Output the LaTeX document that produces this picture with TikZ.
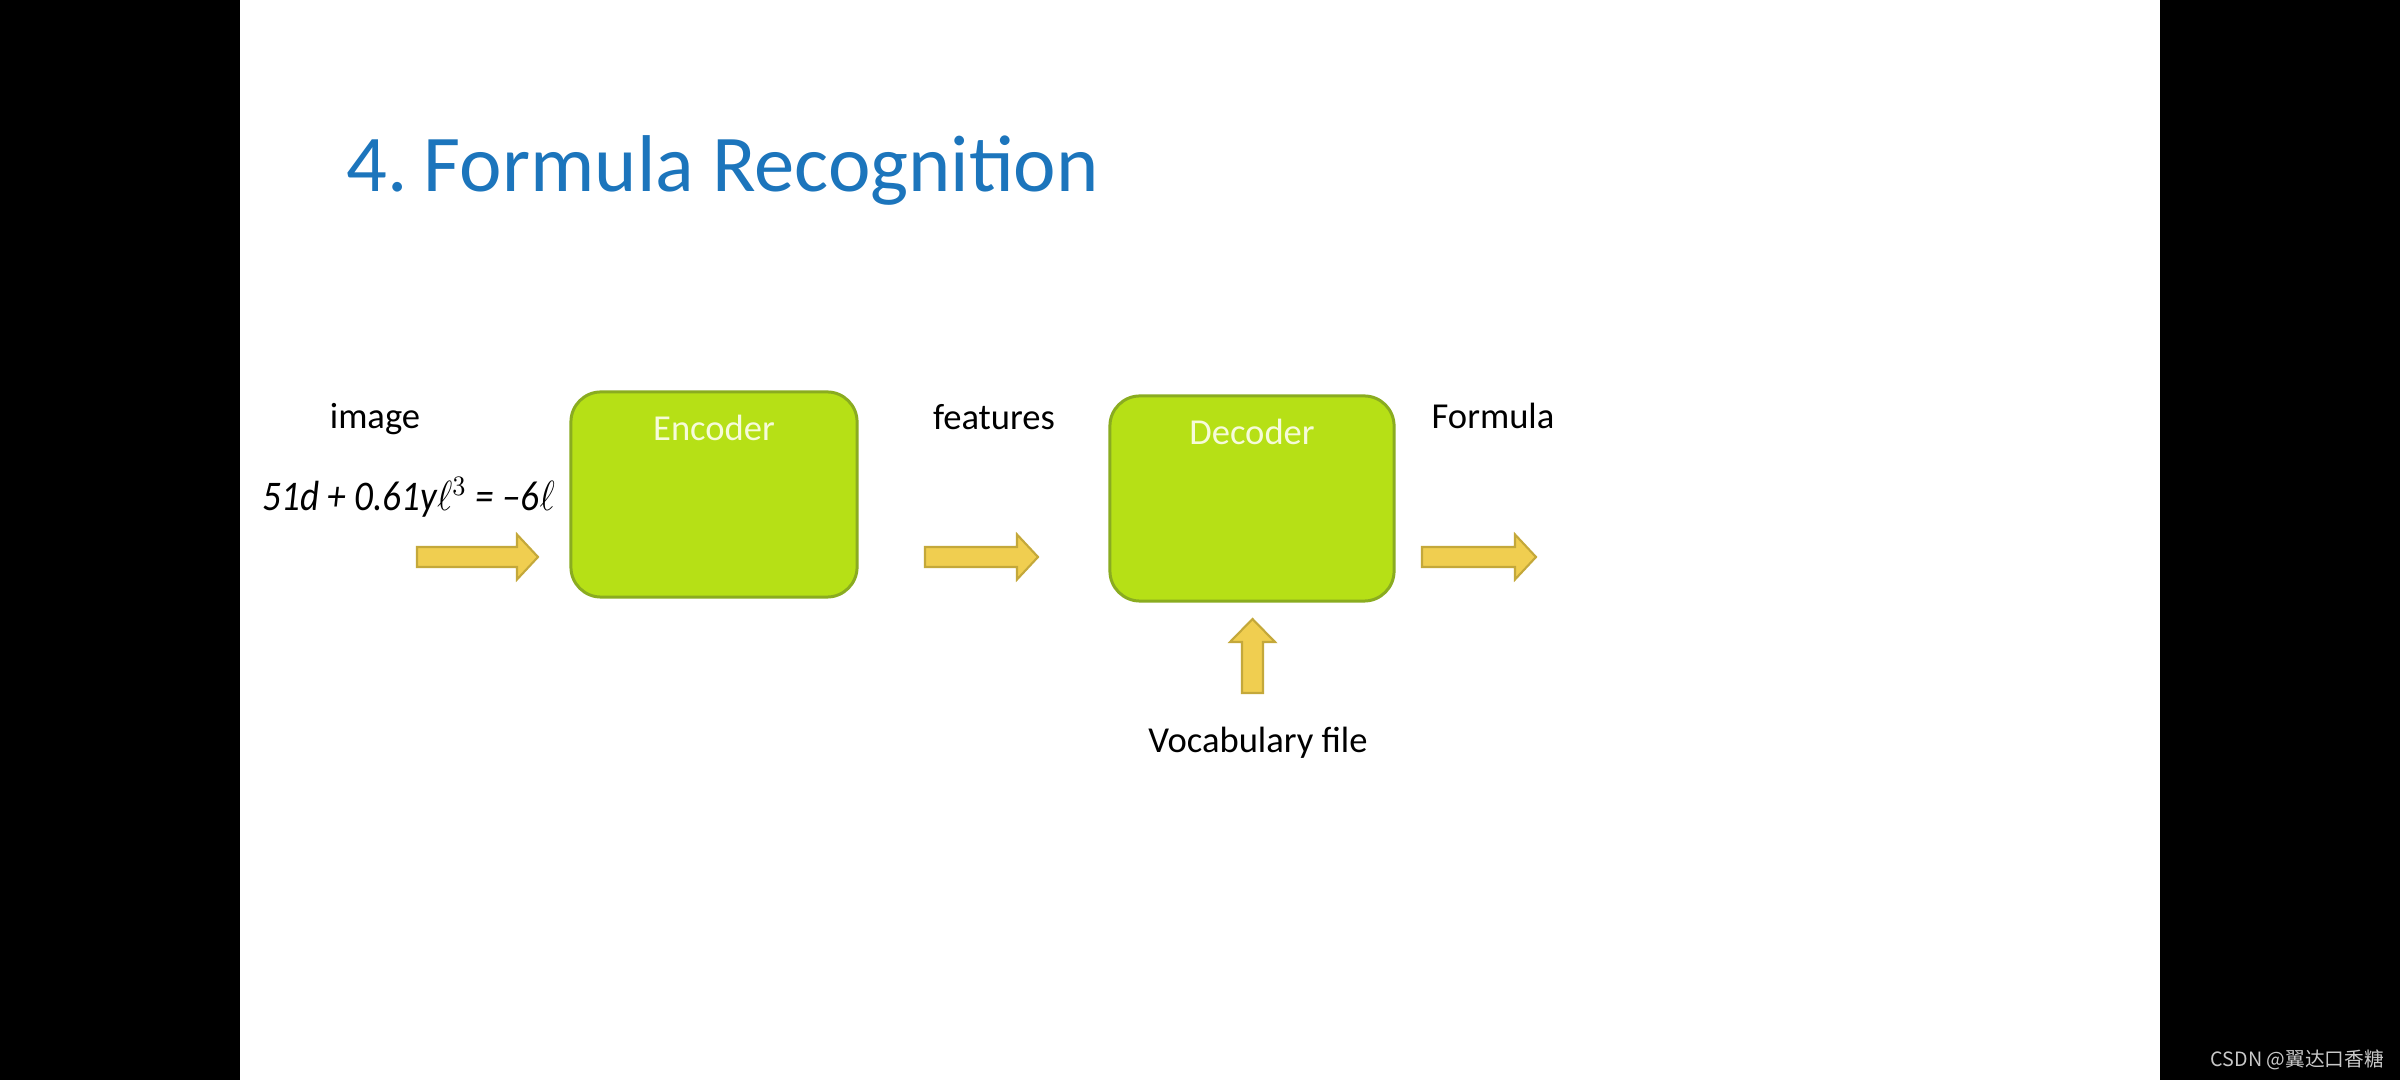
\documentclass[tikz,border=0pt]{standalone}
\usepackage{fontspec}
\setmainfont{Carlito}
\newfontfamily\cjkfont{Noto Sans CJK SC}
\definecolor{titleblue}{RGB}{28,117,188}
\definecolor{limefill}{RGB}{182,224,22}
\definecolor{limedraw}{RGB}{138,172,32}
\definecolor{arrowfill}{RGB}{240,206,80}
\definecolor{arrowdraw}{RGB}{196,168,58}
\definecolor{boxtext}{RGB}{246,251,218}
\definecolor{wmgray}{RGB}{200,200,200}
\tikzset{
  procbox/.style={draw=limedraw, fill=limefill, line width=0.85pt, rounded corners=0.3cm, inner sep=0pt},
  boxlabel/.style={text=boxtext, font=\fontsize{10.4pt}{12pt}\selectfont, anchor=base, inner sep=0pt},
  plainlabel/.style={text=black, font=\fontsize{10.4pt}{12pt}\selectfont, anchor=base, inner sep=0pt},
  blockarrow/.style={draw=arrowdraw, fill=arrowfill, line width=0.6pt, line join=miter},
}
\begin{document}
\begin{tikzpicture}[x=0.01cm, y=-0.01cm]
\useasboundingbox (0,0) rectangle (2400,1080);
\fill[black] (0,0) rectangle (2400,1080);
\fill[white] (240,0) rectangle (2160,1080);

% title
\node[text=titleblue, font=\fontsize{22.9pt}{26pt}\selectfont, anchor=base west, inner sep=0pt] (title) at (346,192) {4.\hspace{0.2em}Formula Recognition};

% boxes
\node[procbox, minimum width=2.86cm, minimum height=2.05cm] (enc) at (714,494.5) {};
\node[procbox, minimum width=2.84cm, minimum height=2.05cm] (dec) at (1252,498.5) {};
\node[boxlabel] (enclabel) at ([yshift=-0.5cm]enc.north) {Encoder};
\node[boxlabel] (declabel) at ([yshift=-0.5cm]dec.north) {Decoder};

% labels
\node[plainlabel] (image) at (375,429) {image};
\node[plainlabel] (features) at (994,430) {features};
\node[plainlabel] (formula) at (1493,429) {Formula};
\node[plainlabel] (vocab) at (1258,753) {Vocabulary file};

% handwritten formula
\node[anchor=base west, inner sep=0pt, font=\fontsize{12pt}{14pt}\selectfont] (hand) at (262,511)
  {\scalebox{0.88}[1]{\itshape 51d + 0.61y$\ell^{3}$ = --6$\ell$}};

% block arrows
\coordinate (a1) at (417,557);
\filldraw[blockarrow] (a1) ++(0,-10) -- ++(100,0) -- ++(0,-12.5) -- ++(21,22.5) -- ++(-21,22.5) -- ++(0,-12.5) -- ++(-100,0) -- cycle;
\coordinate (a2) at (925,557);
\filldraw[blockarrow] (a2) ++(0,-10) -- ++(92,0) -- ++(0,-12.5) -- ++(21,22.5) -- ++(-21,22.5) -- ++(0,-12.5) -- ++(-92,0) -- cycle;
\coordinate (a3) at (1422,557);
\filldraw[blockarrow] (a3) ++(0,-10) -- ++(93,0) -- ++(0,-12.5) -- ++(21,22.5) -- ++(-21,22.5) -- ++(0,-12.5) -- ++(-93,0) -- cycle;
\coordinate (a4) at (1252.5,693);
\filldraw[blockarrow] (a4) ++(-10.5,0) -- ++(0,-51) -- ++(-12,0) -- ++(22.5,-23) -- ++(22.5,23) -- ++(-12,0) -- ++(0,51) -- cycle;

% watermark
\node[anchor=base west, inner sep=0pt, text=wmgray, font=\cjkfont\fontsize{5.6pt}{6.5pt}\selectfont] (wm) at (2210,1066) {CSDN @翼达口香糖};
\end{tikzpicture}
\end{document}
